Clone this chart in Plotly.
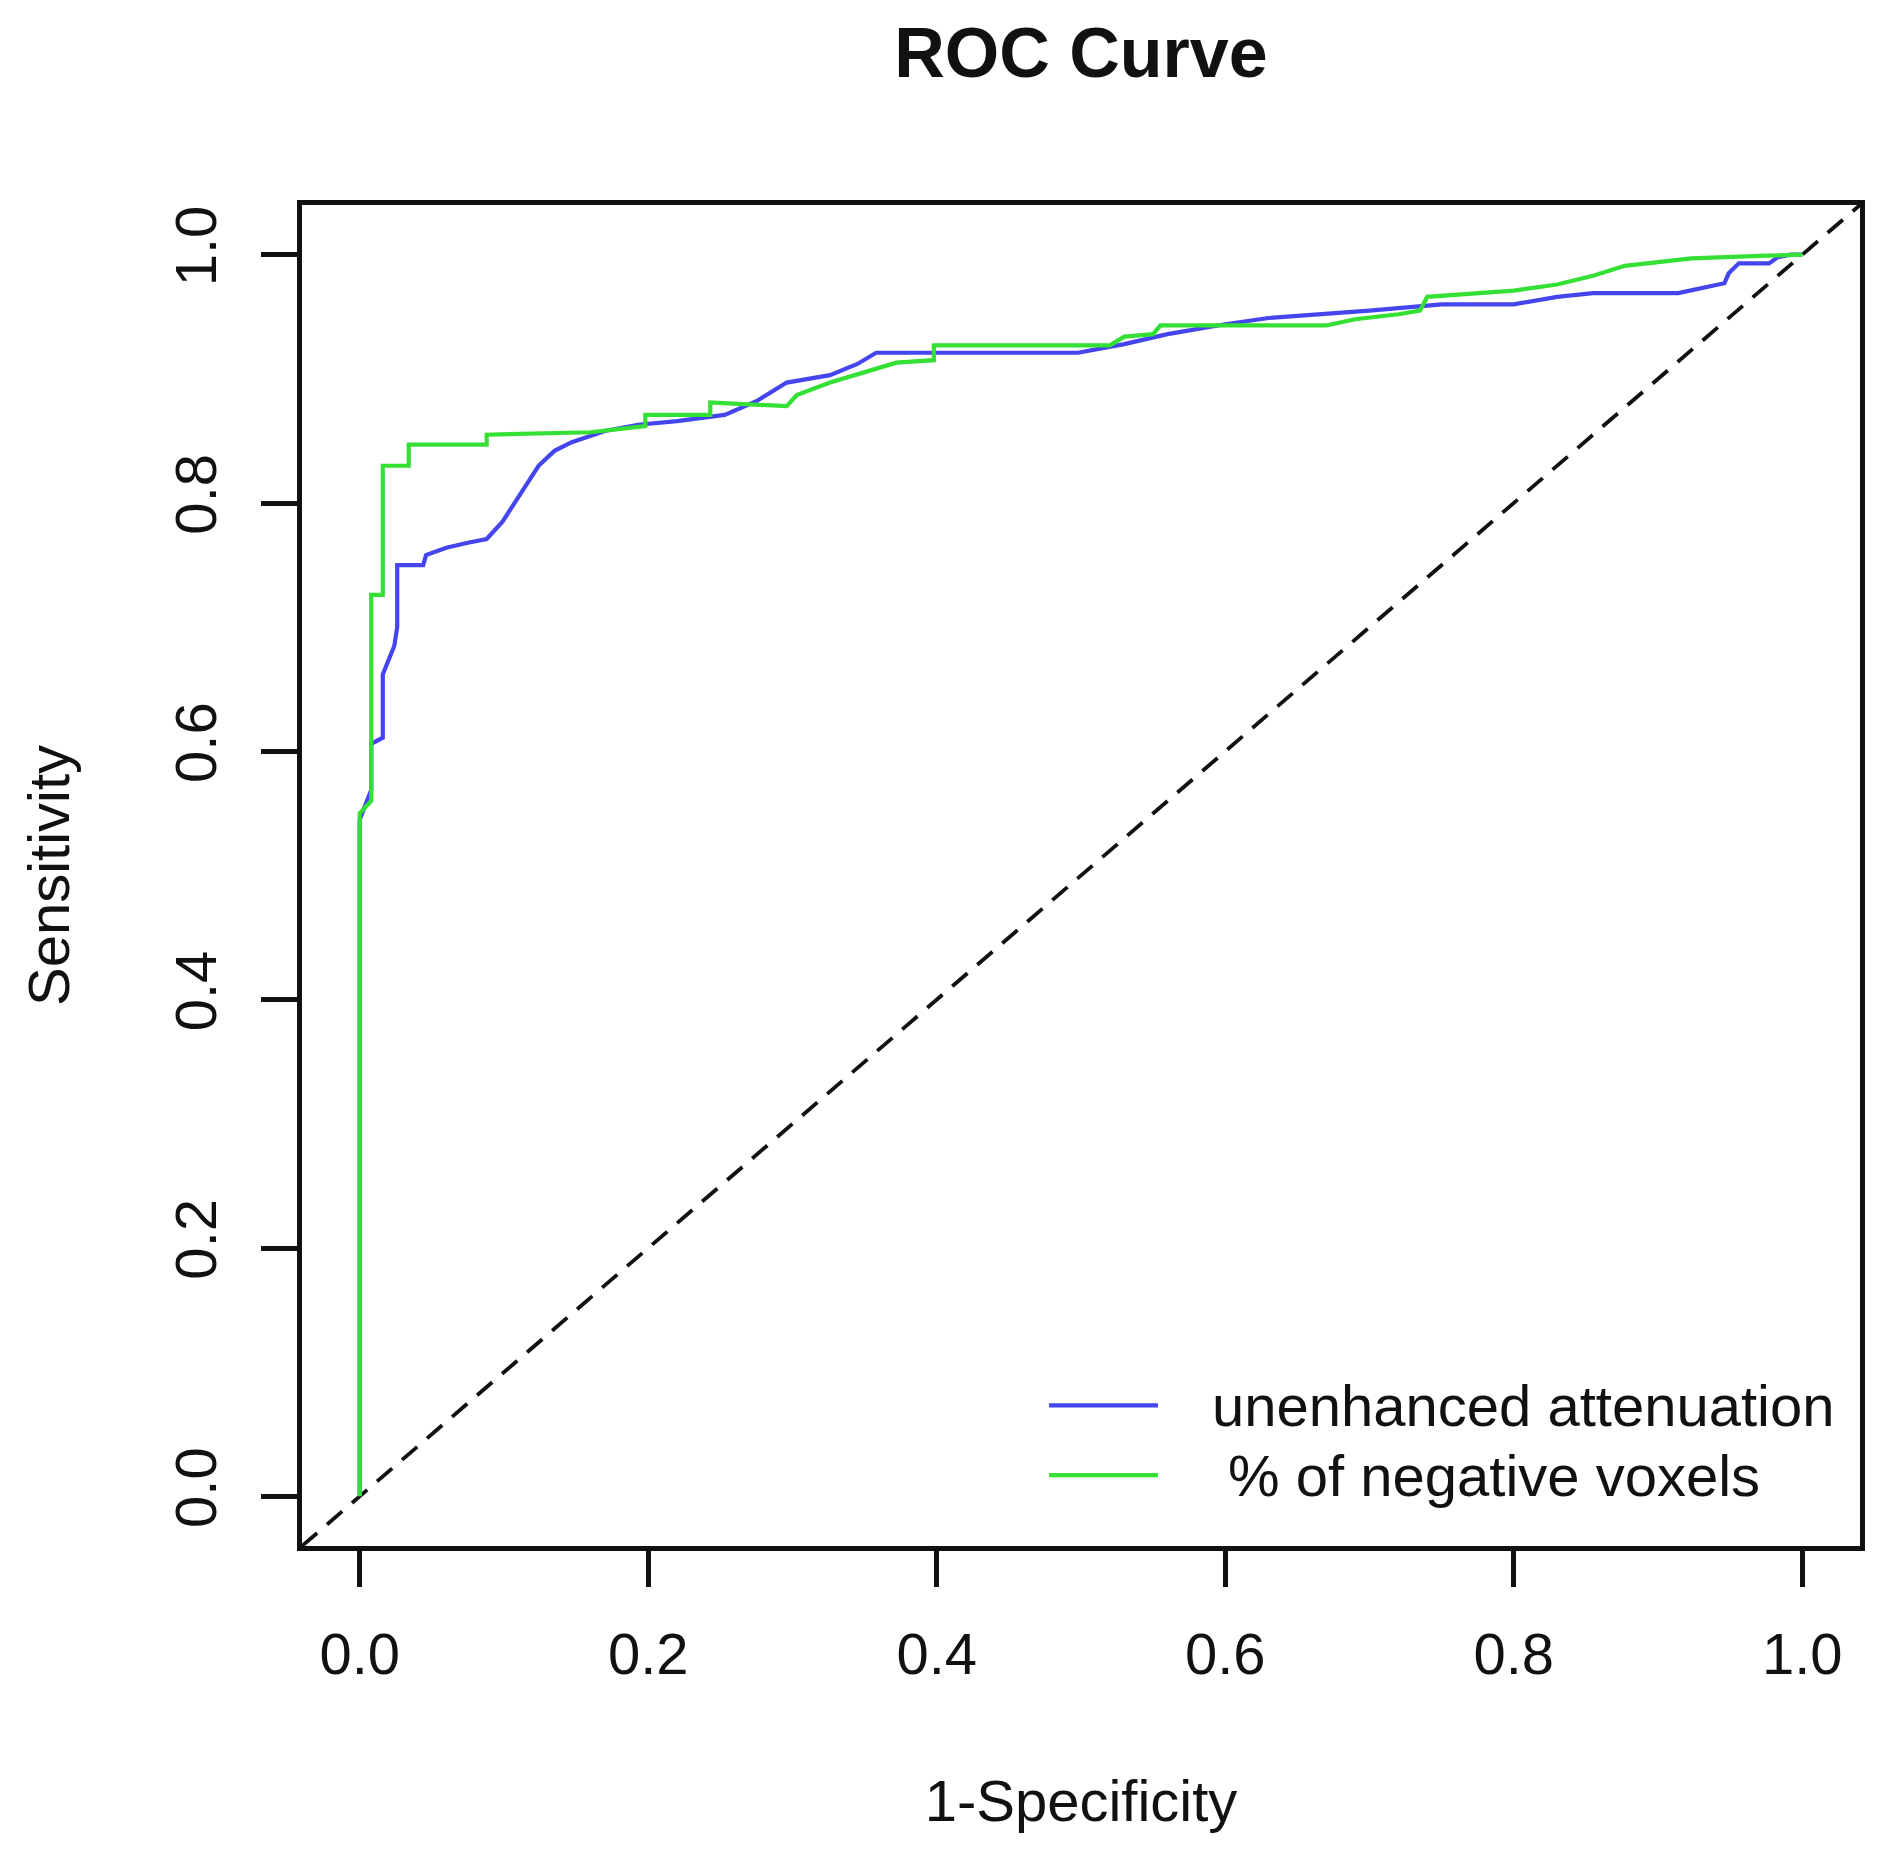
import plotly.graph_objects as go

# ---- data ----
fpr_unenh = [0, 0, 0.008, 0.008, 0.016, 0.016, 0.024, 0.026, 0.026, 0.044,
             0.046, 0.06, 0.075, 0.088, 0.099, 0.11, 0.124, 0.135, 0.147, 0.17,
             0.193, 0.22, 0.253, 0.275, 0.296, 0.326, 0.345, 0.358, 0.4, 0.45,
             0.498, 0.53, 0.56, 0.6, 0.63, 0.7, 0.75, 0.8, 0.83, 0.855,
             0.914, 0.946, 0.949, 0.956, 0.977, 0.983, 0.992, 1.0]
tpr_unenh = [0, 0.545, 0.569, 0.606, 0.611, 0.662, 0.685, 0.70, 0.75, 0.75,
             0.758, 0.764, 0.768, 0.771, 0.785, 0.805, 0.83, 0.842, 0.849, 0.858,
             0.863, 0.866, 0.871, 0.882, 0.897, 0.903, 0.912, 0.921, 0.921, 0.921,
             0.921, 0.928, 0.936, 0.944, 0.949, 0.955, 0.96, 0.96, 0.966, 0.969,
             0.969, 0.977, 0.985, 0.993, 0.993, 0.998, 1.0, 1.0]

fpr_neg = [0, 0, 0.008, 0.008, 0.016, 0.016, 0.034, 0.034, 0.088, 0.088,
           0.16, 0.198, 0.198, 0.243, 0.243, 0.296, 0.303, 0.326, 0.349, 0.372,
           0.398, 0.398, 0.52, 0.53, 0.55, 0.555, 0.67, 0.69, 0.72, 0.735,
           0.74, 0.8, 0.83, 0.855, 0.877, 0.923, 0.97, 1.0]
tpr_neg = [0, 0.55, 0.56, 0.726, 0.726, 0.83, 0.83, 0.847, 0.847, 0.855,
           0.857, 0.862, 0.871, 0.871, 0.881, 0.878, 0.887, 0.897, 0.905, 0.913,
           0.915, 0.927, 0.927, 0.934, 0.936, 0.943, 0.943, 0.948, 0.952, 0.955,
           0.966, 0.971, 0.976, 0.983, 0.991, 0.997, 0.999, 1.0]

series_names = ["unenhanced attenuation", " % of negative voxels"]
tick_vals = [0.0, 0.2, 0.4, 0.6, 0.8, 1.0]
tick_text = ["0.0", "0.2", "0.4", "0.6", "0.8", "1.0"]
axis_range = [-0.04, 1.04]

BLUE = "#4545ee"
GREEN = "#33e033"
INK = "#111111"
FONT = "Liberation Sans, Arial, Helvetica, sans-serif"

fig = go.Figure()

# reference diagonal (abline 0,1) across the whole plotting region
fig.add_trace(go.Scatter(x=axis_range, y=axis_range, mode="lines",
                         line=dict(color=INK, width=3.8, dash="20px,13px"),
                         showlegend=False, hoverinfo="skip"))
fig.add_trace(go.Scatter(x=fpr_unenh, y=tpr_unenh, mode="lines",
                         line=dict(color=BLUE, width=4.2), name=series_names[0],
                         showlegend=False))
fig.add_trace(go.Scatter(x=fpr_neg, y=tpr_neg, mode="lines",
                         line=dict(color=GREEN, width=4.2), name=series_names[1],
                         showlegend=False))

axis_common = dict(
    range=axis_range, tickvals=tick_vals, ticktext=tick_text,
    showline=True, mirror=True, linecolor=INK, linewidth=4.5,
    ticks="outside", ticklen=36, tickwidth=4.5, tickcolor=INK,
    showgrid=False, zeroline=False,
    tickfont=dict(family=FONT, size=58, color=INK),
    title_font=dict(family=FONT, size=58, color=INK),
)

fig.update_layout(
    width=1904, height=1855,
    margin=dict(l=302, r=44, t=205, b=309),
    paper_bgcolor="white", plot_bgcolor="white",
    title=dict(text="<b>ROC Curve</b>", x=(1081 / 1904), xanchor="center",
               y=1 - 52 / 1855, yanchor="middle",
               font=dict(family=FONT, size=70, color=INK)),
    xaxis=dict(axis_common, title=dict(text="1-Specificity", standoff=97),
               ticklabelstandoff=18),
    yaxis=dict(axis_common, tickangle=-90,
               title=dict(text="Sensitivity", standoff=76),
               ticklabelstandoff=22),
    showlegend=False,
)

# manual legend (R-style, no box)
legend_line_x = [0.4795, 0.5494]
legend_rows_y = [0.1049, 0.0528]
legend_colors = [BLUE, GREEN]
for name, col, yy in zip(series_names, legend_colors, legend_rows_y):
    fig.add_shape(type="line", xref="paper", yref="paper",
                  x0=legend_line_x[0], x1=legend_line_x[1], y0=yy, y1=yy,
                  line=dict(color=col, width=4.2))
    fig.add_annotation(xref="paper", yref="paper", x=0.5828, y=yy,
                       xanchor="left", yanchor="middle", showarrow=False,
                       text=name.replace(" ", "\u00a0", 1) if name.startswith(" ") else name,
                       font=dict(family=FONT, size=58, color=INK))

fig.write_html("out.html", config={"displayModeBar": False},
               post_script="document.body.style.margin='0';")
